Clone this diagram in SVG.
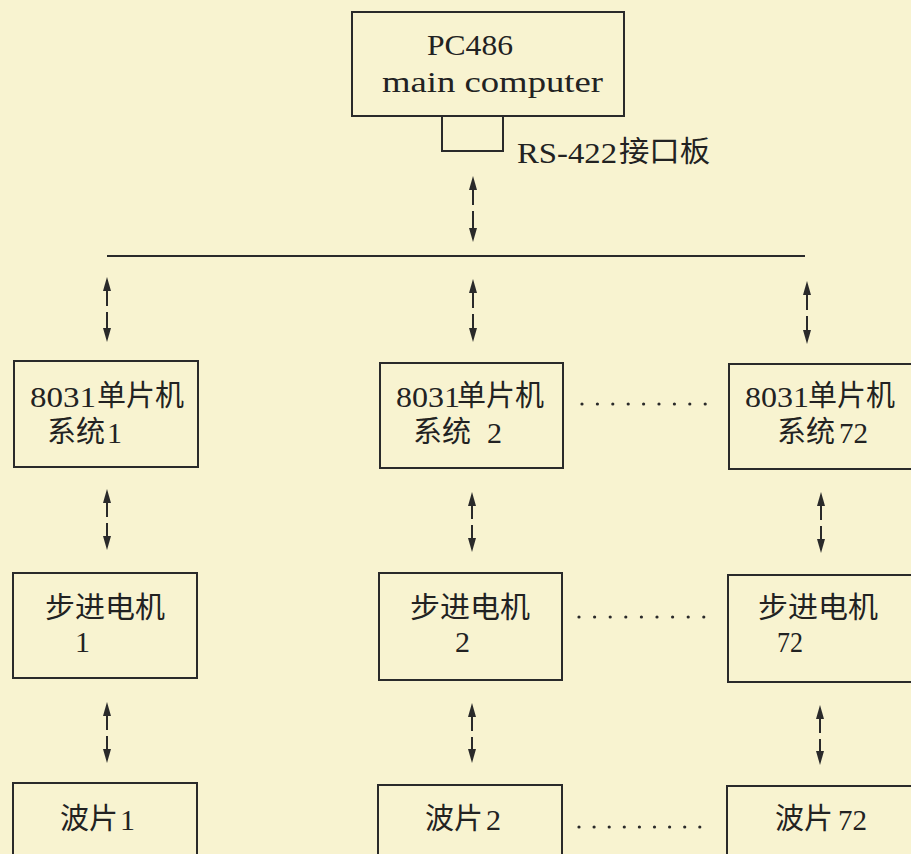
<svg xmlns="http://www.w3.org/2000/svg" width="911" height="854" viewBox="0 0 911 854">
<defs>
<marker id="ah" viewBox="0 -4 14 8" refX="8" refY="0" markerWidth="14" markerHeight="8" markerUnits="userSpaceOnUse" orient="auto">
<path d="M0,-4 L14,0 L0,4 Z" fill="#2a2a2a"/>
</marker>
<style>
.box{fill:none;stroke:#2a2a2a;stroke-width:2}
.ln{fill:none;stroke:#2a2a2a;stroke-width:2}
.ar{fill:none;stroke:#2a2a2a;stroke-width:2;marker-end:url(#ah)}
.t{font-family:"Liberation Serif","Noto Sans CJK SC",serif;font-size:30px;fill:#222}
.c{font-family:"Noto Sans CJK SC",sans-serif;font-size:29px;fill:#222}
.dot{fill:#2a2a2a}
</style>
</defs>
<rect x="0" y="0" width="911" height="854" fill="#f8f3d0"/>

<g id="pc486">
<rect class="box" x="352" y="12" width="272" height="104"/>
<text class="t" x="427" y="55" textLength="86" lengthAdjust="spacingAndGlyphs">PC486</text>
<text class="t" x="382" y="92" textLength="221" lengthAdjust="spacingAndGlyphs">main  computer</text>
</g>
<g id="rs422">
<rect class="box" x="442" y="116" width="61" height="35"/>
<text class="t" x="517" y="163" textLength="100" lengthAdjust="spacingAndGlyphs">RS-422</text>
<text class="c" x="619" y="162" textLength="91" lengthAdjust="spacingAndGlyphs">接口板</text>
</g>

<g id="mcu1">
<rect class="box" x="14" y="361" width="184" height="106"/>
<text class="t" x="30" y="407" textLength="66" lengthAdjust="spacingAndGlyphs">8031</text>
<text class="c" x="97" y="406">单片机</text>
<text class="c" x="47" y="442">系统</text>
<text class="t" x="107" y="443">1</text>
</g>
<g id="mcu2">
<rect class="box" x="380" y="363" width="183" height="105"/>
<text class="t" x="396" y="407" textLength="64" lengthAdjust="spacingAndGlyphs">8031</text>
<text class="c" x="457" y="406">单片机</text>
<text class="c" x="413" y="442">系统</text>
<text class="t" x="487" y="443">2</text>
</g>
<g id="mcu72">
<rect class="box" x="729" y="364" width="200" height="105"/>
<text class="t" x="745" y="407" textLength="64" lengthAdjust="spacingAndGlyphs">8031</text>
<text class="c" x="808" y="406">单片机</text>
<text class="c" x="777" y="442">系统</text>
<text class="t" x="839" y="443" textLength="29" lengthAdjust="spacingAndGlyphs">72</text>
</g>

<g id="motor1">
<rect class="box" x="13" y="573" width="184" height="105"/>
<text class="c" x="45" y="618" textLength="120" lengthAdjust="spacingAndGlyphs">步进电机</text>
<text class="t" x="75" y="652">1</text>
</g>
<g id="motor2">
<rect class="box" x="379" y="573" width="183" height="107"/>
<text class="c" x="410" y="618" textLength="120" lengthAdjust="spacingAndGlyphs">步进电机</text>
<text class="t" x="455" y="652">2</text>
</g>
<g id="motor72">
<rect class="box" x="728" y="575" width="200" height="107"/>
<text class="c" x="758" y="618" textLength="120" lengthAdjust="spacingAndGlyphs">步进电机</text>
<text class="t" x="777" y="652" textLength="26" lengthAdjust="spacingAndGlyphs">72</text>
</g>

<g id="wave1">
<rect class="box" x="13" y="783" width="184" height="90"/>
<text class="c" x="60" y="829">波片</text>
<text class="t" x="120" y="830">1</text>
</g>
<g id="wave2">
<rect class="box" x="378" y="785" width="184" height="90"/>
<text class="c" x="425" y="829">波片</text>
<text class="t" x="486" y="830">2</text>
</g>
<g id="wave72">
<rect class="box" x="727" y="786" width="200" height="90"/>
<text class="c" x="775" y="829">波片</text>
<text class="t" x="838" y="830" textLength="29" lengthAdjust="spacingAndGlyphs">72</text>
</g>

<g id="connectors">
<line class="ln" x1="107" y1="256" x2="805" y2="256"/>
<line class="ar" x1="473" y1="205" x2="473" y2="182"/>
<line class="ar" x1="473" y1="211" x2="473" y2="236"/>
<line class="ar" x1="107" y1="306" x2="107" y2="283"/>
<line class="ar" x1="107" y1="312" x2="107" y2="336"/>
<line class="ar" x1="473" y1="308" x2="473" y2="285"/>
<line class="ar" x1="473" y1="314" x2="473" y2="336"/>
<line class="ar" x1="807" y1="310" x2="807" y2="287"/>
<line class="ar" x1="807" y1="316" x2="807" y2="338"/>
<line class="ar" x1="107" y1="517" x2="107" y2="495"/>
<line class="ar" x1="107" y1="523" x2="107" y2="544"/>
<line class="ar" x1="472" y1="519" x2="472" y2="498"/>
<line class="ar" x1="472" y1="525" x2="472" y2="546"/>
<line class="ar" x1="821" y1="520" x2="821" y2="498"/>
<line class="ar" x1="821" y1="526" x2="821" y2="547"/>
<line class="ar" x1="107" y1="730" x2="107" y2="708"/>
<line class="ar" x1="107" y1="736" x2="107" y2="757"/>
<line class="ar" x1="472" y1="731" x2="472" y2="709"/>
<line class="ar" x1="472" y1="737" x2="472" y2="757"/>
<line class="ar" x1="820" y1="733" x2="820" y2="711"/>
<line class="ar" x1="820" y1="739" x2="820" y2="759"/>
</g>

<g id="dots">
<g transform="translate(582,404)">
<circle class="dot" cx="0" cy="0" r="1.6"/><circle class="dot" cx="15.4" cy="0" r="1.6"/><circle class="dot" cx="30.8" cy="0" r="1.6"/><circle class="dot" cx="46.2" cy="0" r="1.6"/><circle class="dot" cx="61.6" cy="0" r="1.6"/><circle class="dot" cx="77" cy="0" r="1.6"/><circle class="dot" cx="92.4" cy="0" r="1.6"/><circle class="dot" cx="107.8" cy="0" r="1.6"/><circle class="dot" cx="123.2" cy="0" r="1.6"/>
</g>
<g transform="translate(579,617)">
<circle class="dot" cx="0" cy="0" r="1.6"/><circle class="dot" cx="15.6" cy="0" r="1.6"/><circle class="dot" cx="31.2" cy="0" r="1.6"/><circle class="dot" cx="46.8" cy="0" r="1.6"/><circle class="dot" cx="62.4" cy="0" r="1.6"/><circle class="dot" cx="78" cy="0" r="1.6"/><circle class="dot" cx="93.6" cy="0" r="1.6"/><circle class="dot" cx="109.2" cy="0" r="1.6"/><circle class="dot" cx="124.8" cy="0" r="1.6"/>
</g>
<g transform="translate(579,827)">
<circle class="dot" cx="0" cy="0" r="1.6"/><circle class="dot" cx="15.1" cy="0" r="1.6"/><circle class="dot" cx="30.2" cy="0" r="1.6"/><circle class="dot" cx="45.3" cy="0" r="1.6"/><circle class="dot" cx="60.4" cy="0" r="1.6"/><circle class="dot" cx="75.5" cy="0" r="1.6"/><circle class="dot" cx="90.6" cy="0" r="1.6"/><circle class="dot" cx="105.7" cy="0" r="1.6"/><circle class="dot" cx="120.8" cy="0" r="1.6"/>
</g>
</g>
</svg>
